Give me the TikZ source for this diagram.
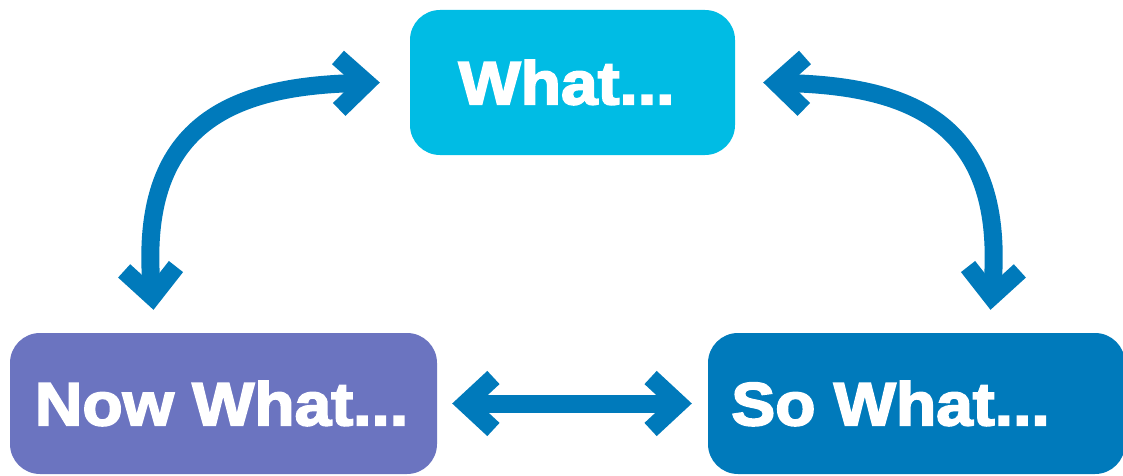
\documentclass[tikz,border=0pt]{standalone}
\usepackage{fontspec}
\newfontfamily\boxfont{Liberation Sans Bold}[FakeBold=3, FakeStretch=1.08]
\usetikzlibrary{arrows.meta}
\definecolor{whatcyan}{RGB}{0,188,228}
\definecolor{nowpurple}{RGB}{107,116,192}
\definecolor{sodarkblue}{RGB}{0,122,187}
\tikzset{
  box/.style={rounded corners=30pt, inner sep=0pt},
  boxtext/.style={text=white, font=\boxfont\fontsize{61}{66}\selectfont, inner sep=0pt},
  link/.style={draw=sodarkblue, line width=18pt, <->}
}
\begin{document}
\begin{tikzpicture}[x=1pt, y=1pt, >={Straight Barb[length=28pt, width=52pt, line width=18pt]}]
        \useasboundingbox (0,0) rectangle (1123,475);

        % Riquadri
        \node[box, fill=whatcyan, minimum width=325pt, minimum height=145pt] (what) at (572.5,392.5) {};
        \node[box, fill=nowpurple, minimum width=427pt, minimum height=141pt] (now) at (223.5,71.5) {};
        \node[box, fill=sodarkblue, minimum width=417pt, minimum height=141pt] (so) at (916.5,71.5) {};

        % Testi
        \node[boxtext] (whattext) at ([xshift=-6pt]what.center) {What...};
        \node[boxtext] (nowtext) at ([xshift=-2pt]now.center) {Now What...};
        \node[boxtext] (sotext) at ([xshift=-26pt]so.center) {So What...};

        % Frecce
        \coordinate (a) at ([xshift=-30pt]what.west);
        \coordinate (b) at ([shift={(-70pt,23pt)}]now.north);
        \coordinate (c) at ([xshift=28pt]what.east);
        \coordinate (d) at ([shift={(74pt,23pt)}]so.north);
        \draw[link] (a) .. controls (230,389) and (138,350) .. (b);
        \draw[link] (c) .. controls (914,389) and (1006,350) .. (d);
        \draw[link] ([xshift=15pt]now.east) -- ([xshift=-16pt]so.west);
    \end{tikzpicture}
\end{document}
